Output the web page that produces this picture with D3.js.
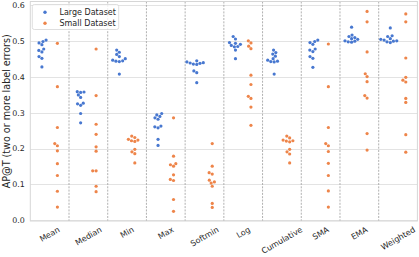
<!DOCTYPE html>
<html>
<head>
<meta charset="utf-8">
<script src="https://cdn.jsdelivr.net/npm/d3@7"></script>
<style>
  body { margin: 0; background: #fff; }
  svg text { font-family: "DejaVu Sans", sans-serif; fill: #262626; }
</style>
</head>
<body>
<svg id="chart" width="419" height="257"></svg>
<script>
const categories = ["Mean", "Median", "Min", "Max", "Softmin", "Log", "Cumulative", "SMA", "EMA", "Weighted"];
const seriesNames = ["Large Dataset", "Small Dataset"];
const seriesColors = ["#4878d0", "#ee854a"];
const yTicks = [0.0, 0.1, 0.2, 0.3, 0.4, 0.5, 0.6];

const largeValues = [
  [0.503, 0.499, 0.495, 0.490, 0.478, 0.474, 0.470, 0.457, 0.452, 0.428],
  [0.359, 0.358, 0.357, 0.350, 0.343, 0.327, 0.325, 0.321, 0.298, 0.272],
  [0.475, 0.469, 0.463, 0.457, 0.451, 0.447, 0.445, 0.444, 0.443, 0.408],
  [0.298, 0.294, 0.290, 0.286, 0.282, 0.263, 0.261, 0.258, 0.226, 0.209],
  [0.445, 0.442, 0.440, 0.439, 0.438, 0.436, 0.435, 0.417, 0.412, 0.384],
  [0.513, 0.506, 0.496, 0.494, 0.491, 0.488, 0.485, 0.484, 0.475, 0.451],
  [0.475, 0.468, 0.464, 0.458, 0.451, 0.447, 0.444, 0.443, 0.442, 0.408],
  [0.503, 0.499, 0.496, 0.491, 0.478, 0.475, 0.471, 0.457, 0.452, 0.427],
  [0.539, 0.517, 0.513, 0.510, 0.507, 0.505, 0.501, 0.500, 0.498, 0.497],
  [0.537, 0.515, 0.513, 0.507, 0.505, 0.503, 0.501, 0.500, 0.498, 0.496]
];

const smallValues = [
  [0.494, 0.373, 0.259, 0.214, 0.208, 0.194, 0.158, 0.125, 0.081, 0.037],
  [0.478, 0.348, 0.268, 0.240, 0.205, 0.193, 0.138, 0.138, 0.095, 0.080],
  [0.235, 0.231, 0.226, 0.224, 0.222, 0.220, 0.198, 0.191, 0.186, 0.160],
  [0.286, 0.179, 0.158, 0.155, 0.151, 0.127, 0.114, 0.111, 0.058, 0.025],
  [0.214, 0.151, 0.133, 0.129, 0.112, 0.107, 0.104, 0.095, 0.047, 0.036],
  [0.501, 0.495, 0.486, 0.479, 0.405, 0.379, 0.346, 0.340, 0.316, 0.265],
  [0.235, 0.230, 0.224, 0.222, 0.221, 0.219, 0.198, 0.191, 0.185, 0.160],
  [0.492, 0.373, 0.259, 0.214, 0.208, 0.192, 0.159, 0.125, 0.082, 0.037],
  [0.583, 0.554, 0.470, 0.409, 0.401, 0.387, 0.348, 0.341, 0.242, 0.196],
  [0.576, 0.554, 0.453, 0.399, 0.391, 0.386, 0.340, 0.329, 0.239, 0.190]
];

const svg = d3.select("#chart");
const plotLeft = 30.3, plotRight = 417.4, plotTop = 1.5, plotBottom = 221;

const x = d3.scaleBand().domain(categories).range([plotLeft, plotRight]).padding(0);
const y = d3.scaleLinear().domain([0, 0.6]).range([220.3, 5.3]);

// grid
svg.append("g")
  .selectAll("line")
  .data(yTicks)
  .join("line")
  .attr("x1", plotLeft).attr("x2", plotRight)
  .attr("y1", d => Math.round(y(d)) + 0.5)
  .attr("y2", d => Math.round(y(d)) + 0.5)
  .attr("stroke", "#e3e3e3")
  .attr("stroke-width", 1);

// dashed separators between categories
svg.append("g")
  .selectAll("line")
  .data(categories.slice(1))
  .join("line")
  .attr("x1", d => x(d)).attr("x2", d => x(d))
  .attr("y1", plotTop).attr("y2", plotBottom)
  .attr("stroke", "#a8a8a8")
  .attr("stroke-width", 0.9)
  .attr("stroke-dasharray", "2,1.3");

// frame
svg.append("rect")
  .attr("x", plotLeft).attr("y", plotTop)
  .attr("width", plotRight - plotLeft).attr("height", plotBottom - plotTop)
  .attr("fill", "none")
  .attr("stroke", "#d6d6d6")
  .attr("stroke-width", 1);

// beeswarm placement (like seaborn swarmplot)
function swarm(values, cx, dist) {
  const pts = values.map(v => ({ v, y: y(v) })).sort((a, b) => b.y - a.y);
  const placed = [];
  pts.forEach(p => {
    const near = placed.filter(q => Math.abs(q.y - p.y) < dist);
    const cands = [cx];
    near.forEach(q => {
      const dx = Math.sqrt(dist * dist - (q.y - p.y) ** 2);
      cands.push(q.x - dx, q.x + dx);
    });
    cands.sort((a, b) => Math.abs(a - cx) - Math.abs(b - cx));
    p.x = cands.find(c => near.every(q => (q.x - c) ** 2 + (q.y - p.y) ** 2 >= dist * dist - 1e-6));
    placed.push(p);
  });
  return placed;
}

const dodge = x.bandwidth() * 0.2;
[largeValues, smallValues].forEach((series, s) => {
  const pts = [];
  categories.forEach((c, i) => {
    const cx = x(c) + x.bandwidth() / 2 + (s === 0 ? -dodge : dodge);
    swarm(series[i], cx, 3.4).forEach(p => pts.push(p));
  });
  svg.append("g")
    .selectAll("circle")
    .data(pts)
    .join("circle")
    .attr("cx", d => d.x)
    .attr("cy", d => d.y)
    .attr("r", 1.6)
    .attr("fill", seriesColors[s]);
});

// y axis labels
svg.append("g")
  .selectAll("text")
  .data(yTicks)
  .join("text")
  .attr("x", 24.8)
  .attr("y", d => y(d))
  .attr("dy", "0.35em")
  .attr("text-anchor", "end")
  .attr("font-size", "7.9px")
  .text(d => d3.format(".1f")(d));

svg.append("text")
  .attr("transform", `translate(10.3, ${(plotTop + plotBottom) / 2}) rotate(-90)`)
  .attr("text-anchor", "middle")
  .attr("font-size", "9.6px")
  .text("AP@T (two or more label errors)");

// x axis labels, rotated 30 deg, top-centered under tick
const fsX = 8;
svg.append("g")
  .selectAll("text")
  .data(categories)
  .join("text")
  .attr("text-anchor", "middle")
  .attr("dy", "0.35em")
  .attr("font-size", fsX + "px")
  .text(d => d)
  .each(function(d) {
    const L = this.getComputedTextLength();
    const h = fsX * 0.95;
    const bh = 0.5 * L + 0.866 * h;
    d3.select(this).attr("transform",
      `translate(${x(d) + x.bandwidth() / 2}, ${225.5 + bh / 2}) rotate(-30)`);
  });

// legend
const legend = svg.append("g");
legend.append("rect")
  .attr("x", 32.3).attr("y", 4.5)
  .attr("width", 86.4).attr("height", 25)
  .attr("rx", 2)
  .attr("fill", "#fff").attr("fill-opacity", 0.8)
  .attr("stroke", "#d6d6d6").attr("stroke-width", 0.8);

const items = legend.selectAll("g.item")
  .data(seriesNames)
  .join("g")
  .attr("class", "item")
  .attr("transform", (d, i) => `translate(45, ${12.3 + i * 11})`);

items.append("circle")
  .attr("r", 1.7)
  .attr("fill", (d, i) => seriesColors[i]);

items.append("text")
  .attr("x", 14.5)
  .attr("dy", "0.35em")
  .attr("font-size", "8px")
  .text(d => d);
</script>
</body>
</html>
